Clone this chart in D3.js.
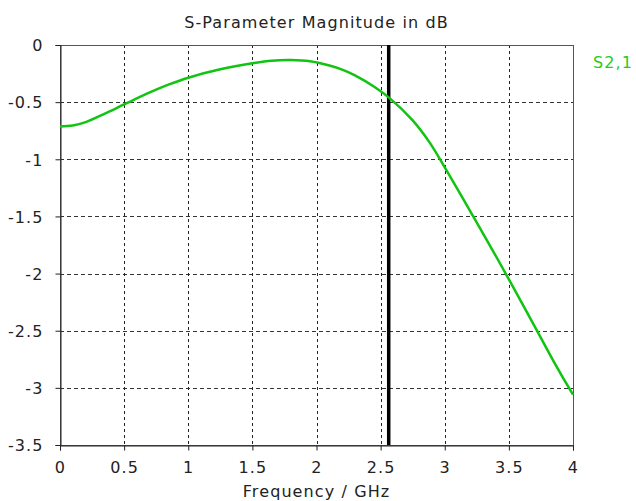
<!DOCTYPE html>
<html>
<head>
<meta charset="utf-8">
<script src="https://cdn.jsdelivr.net/npm/d3@7"></script>
<style>
  body { margin: 0; background: #fff; }
  svg text { font-family: "DejaVu Sans", sans-serif; font-size: 16px; fill: #222; letter-spacing: 1.1px; }
</style>
</head>
<body>
<div class="chart"></div>
<script>
// S2,1 magnitude
const freqs = [0, 0.1, 0.2, 0.35, 0.5, 0.7, 0.85, 1.0, 1.25, 1.5, 1.65, 1.8, 1.95, 2.1, 2.2, 2.3, 2.45, 2.57, 2.75, 2.88, 3.0, 3.14, 3.25, 3.38, 3.5, 3.7, 3.85, 4.0];
const s21 = [-0.713, -0.705, -0.675, -0.60, -0.52, -0.415, -0.345, -0.286, -0.213, -0.16, -0.137, -0.131, -0.142, -0.18, -0.215, -0.265, -0.365, -0.465, -0.66, -0.85, -1.07, -1.34, -1.555, -1.81, -2.05, -2.46, -2.77, -3.06];
const xTicks = [0, 0.5, 1, 1.5, 2, 2.5, 3, 3.5, 4];
const yTicks = [0, -0.5, -1, -1.5, -2, -2.5, -3, -3.5];
const markerFreq = 2.563;

const W = 636, H = 501;
const m = { left: 60, right: 63, top: 45, bottom: 56 };

const svg = d3.select(".chart").append("svg")
  .attr("width", W).attr("height", H);

const x = d3.scaleLinear().domain([0, 4]).range([m.left, W - m.right]);
const y = d3.scaleLinear().domain([-3.5, 0]).range([H - m.bottom, m.top]);

// grid
svg.append("g").selectAll("line").data(yTicks.slice(1, -1)).enter().append("line")
  .attr("x1", x(0)).attr("x2", x(4))
  .attr("y1", d => Math.round(y(d)) + 0.5).attr("y2", d => Math.round(y(d)) + 0.5)
  .attr("stroke", "#333").attr("stroke-dasharray", "4,3");
svg.append("g").selectAll("line").data(xTicks.slice(1, -1)).enter().append("line")
  .attr("y1", y(0)).attr("y2", y(-3.5))
  .attr("x1", d => Math.round(x(d)) + 0.5).attr("x2", d => Math.round(x(d)) + 0.5)
  .attr("stroke", "#222").attr("stroke-dasharray", "3,3");

// frame
svg.append("rect")
  .attr("x", x(0) + 0.5).attr("y", y(0) + 0.5)
  .attr("width", x(4) - x(0)).attr("height", y(-3.5) - y(0))
  .attr("fill", "none").attr("stroke", "#555");

// axes
const fmt = d => String(d);
const xAxis = svg.append("g")
  .attr("transform", `translate(0,${y(-3.5) + 0.5})`)
  .call(d3.axisBottom(x).tickValues(xTicks).tickSize(5).tickPadding(11).tickFormat(fmt));
const yAxis = svg.append("g")
  .attr("transform", `translate(${x(0) + 0.5},0)`)
  .call(d3.axisLeft(y).tickValues(yTicks).tickSize(5).tickPadding(12).tickFormat(fmt));
[xAxis, yAxis].forEach(a => {
  a.select(".domain").attr("stroke", "#222");
  a.selectAll(".tick line").attr("stroke", "#222");
  a.selectAll("text").attr("font-family", null).attr("font-size", null).attr("fill", "#222");
});
yAxis.selectAll("text").attr("dy", "0.36em");

// marker
svg.append("line")
  .attr("x1", x(markerFreq)).attr("x2", x(markerFreq))
  .attr("y1", y(0)).attr("y2", y(-3.5))
  .attr("stroke", "#000").attr("stroke-width", 3.5);

// curve
const line = d3.line().x((d, i) => x(freqs[i])).y(d => y(d)).curve(d3.curveCatmullRom.alpha(0.5));
svg.append("path").datum(s21)
  .attr("d", line)
  .attr("fill", "none").attr("stroke", "#11c411").attr("stroke-width", 2.5);

// titles
svg.append("text").attr("x", (x(0) + x(4)) / 2).attr("y", 28)
  .attr("text-anchor", "middle").text("S-Parameter Magnitude in dB");
svg.append("text").attr("x", (x(0) + x(4)) / 2).attr("y", 497)
  .attr("text-anchor", "middle").text("Frequency / GHz");
svg.append("text").attr("x", 593).attr("y", 68)
  .style("fill", "#22cc22").text("S2,1");
</script>
</body>
</html>
